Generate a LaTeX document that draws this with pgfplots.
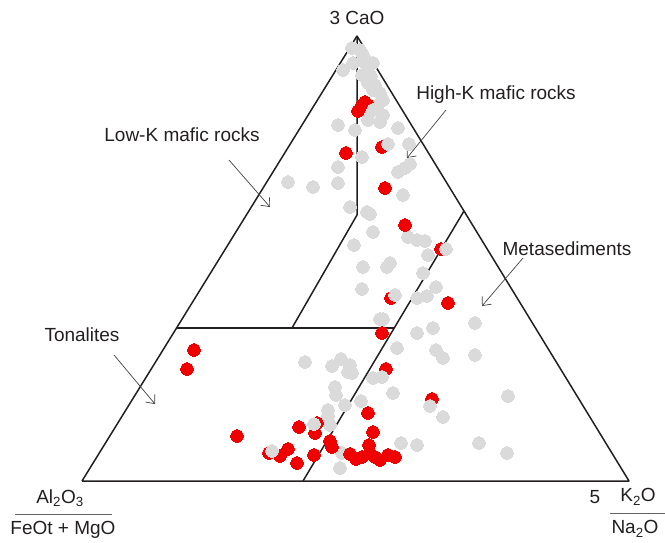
\documentclass[border=0pt]{standalone}
\usepackage{pgfplots}
\pgfplotsset{compat=1.18}
\usepackage{fontspec}
\setmainfont{Liberation Sans}
\usetikzlibrary{arrows.meta}
\definecolor{ink}{RGB}{35,31,32}
\definecolor{pgray}{RGB}{218,218,218}
\definecolor{pred}{RGB}{240,0,0}
\begin{document}
\begin{tikzpicture}
\begin{axis}[name=ax,width=665pt,height=542pt,scale only axis,
  xmin=0,xmax=665,ymin=0,ymax=542,y dir=reverse,hide axis,clip=false]
% gray data
\addplot[only marks, mark=*, mark size=6.3pt, color=pgray, mark options={draw=pgray,fill=pgray,line width=0pt}] coordinates {
(343,70)(352,48)(353,63)(363,55)(365,63)(370,63)(362,75)(367,73)(373,63)(368,83)(375,85)
(380,93)(383,100)(378,105)(383,115)(380,122)(368,120)(363,110)(338,125)(355,130)(398,128)
(360,50)(371,76)(373,90)
(409,144)(362,157)(338,167)(288,182)(313,187)(338,183)(410,164)(405,168)(398,172)
(403,195)(350,207)(367,212)(370,214)(373,232)(354,245)(408,237)(417,240)(425,241)
(428,255)(363,267)(390,263)(387,267)(423,273)(362,289)(436,287)(417,298)(427,296)
(380,319)(383,319)(417,333)(433,328)(475,323)(397,348)(436,350)(443,358)(475,355)(341,359)
(305,362)(332,366)(350,365)(352,373)(348,372)(335,387)(336,395)(328,410)(328,416)(330,425)
(373,378)(393,393)(361,401)(345,405)(508,396)(443,417)(401,443)(417,445)(479,443)
(507,453)(342,453)(340,468)
};
% red data
\addplot[only marks, mark=*, mark size=6.3pt, color=pred, mark options={draw=pred,fill=pred,line width=0pt}] coordinates {
(365,102)(362,105)(368,105)(358,111)(382,147)(346,153)(385,188)(405,225)(441,249)(391,298)
(448,303)(382,333)(194,350)(187,369)(386,369)(432,399)(368,413)(373,432)(237,436)(299,427)
(317,423)(315,433)(330,441)(332,447)(288,449)(280,456)(269,453)(297,463)(314,455)(369,445)
(370,453)(375,457)(380,460)(350,454)(356,459)(362,457)(388,455)(395,457)
};
% gray data drawn over red
\addplot[only marks, mark=*, mark size=6.3pt, color=pgray, mark options={draw=pgray,fill=pgray,line width=0pt}] coordinates {
(373,110)(388,144)(446,249)(395,295)(430,406)(272,451)(382,377)(314,424)
};
% frame and fields
\addplot[ink, line width=1.5pt, line join=round] coordinates {(82,481)(629,481)(357,36)(82,481)};
\addplot[ink, line width=1.5pt, line join=round] coordinates {(357,36)(357,215)(292,328)};
\addplot[ink, line width=1.5pt] coordinates {(177,328)(394,328)};
\addplot[ink, line width=1.5pt] coordinates {(303,481)(464,211)};
% arrows
\draw[ink!85, line width=0.7pt, -{Straight Barb[length=7pt,width=12pt]}] (axis cs:229,160) -- (axis cs:270,207);
\draw[ink!85, line width=0.7pt, -{Straight Barb[length=7pt,width=12pt]}] (axis cs:446,110) -- (axis cs:407,158);
\draw[ink!85, line width=0.7pt, -{Straight Barb[length=7pt,width=12pt]}] (axis cs:523,258) -- (axis cs:482,306);
\draw[ink!85, line width=0.7pt, -{Straight Barb[length=7pt,width=12pt]}] (axis cs:114,355) -- (axis cs:155,404);
% labels
\begin{scope}[every node/.style={text=ink, font=\fontsize{19}{22}\selectfont, inner sep=0pt}]
\node at (axis cs:357,18) {3 CaO};
\node at (axis cs:496,95) {High-K mafic rocks};
\node at (axis cs:182,135) {Low-K mafic rocks};
\node at (axis cs:567,249) {Metasediments};
\node at (axis cs:82,335) {Tonalites};
\node at (axis cs:60,498) {Al\textsubscript{2}O\textsubscript{3}};
\node at (axis cs:63,530) {FeOt + MgO};
\node at (axis cs:595,497) {5};
\node at (axis cs:638,497) {K\textsubscript{2}O};
\node at (axis cs:635,529) {Na\textsubscript{2}O};
\end{scope}
\draw[ink!70, line width=0.5pt] (axis cs:15,514) -- (axis cs:112,514);
\draw[ink!70, line width=0.5pt] (axis cs:610,513) -- (axis cs:665,513);
\end{axis}
\pgfresetboundingbox
\path[use as bounding box] (ax.south west) rectangle (ax.north east);
\end{tikzpicture}
\end{document}
